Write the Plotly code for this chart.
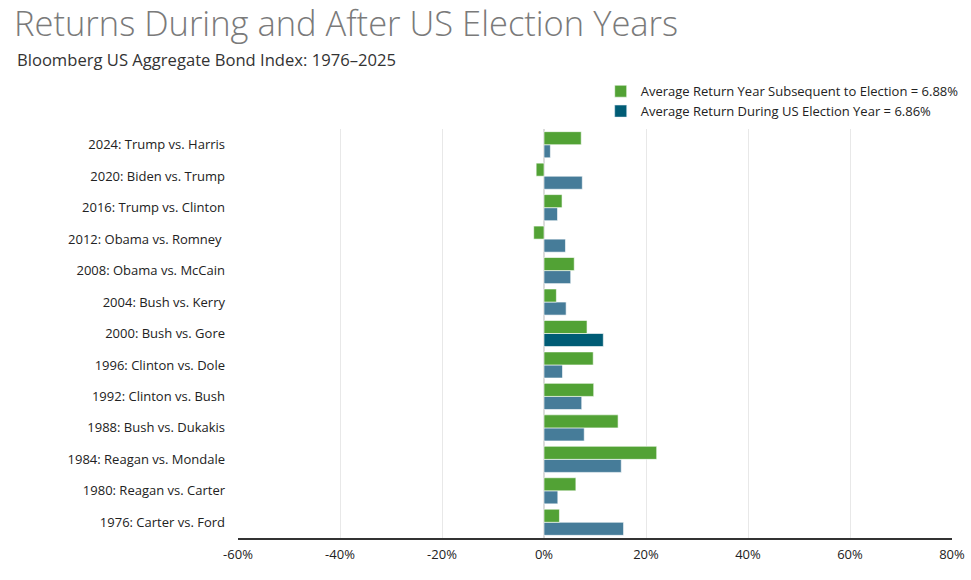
import plotly.graph_objects as go

categories = [
    "1976: Carter vs. Ford",
    "1980: Reagan vs. Carter",
    "1984: Reagan vs. Mondale",
    "1988: Bush vs. Dukakis",
    "1992: Clinton vs. Bush",
    "1996: Clinton vs. Dole",
    "2000: Bush vs. Gore",
    "2004: Bush vs. Kerry",
    "2008: Obama vs. McCain",
    "2012: Obama vs. Romney ",
    "2016: Trump vs. Clinton",
    "2020: Biden vs. Trump",
    "2024: Trump vs. Harris",
]
election_year = [15.60, 2.71, 15.15, 7.89, 7.40, 3.63, 11.63, 4.34, 5.24, 4.21, 2.65, 7.51, 1.25]
subsequent_year = [3.03, 6.25, 22.10, 14.53, 9.75, 9.65, 8.44, 2.43, 5.93, -2.02, 3.54, -1.54, 7.30]
tick_vals = [-60, -40, -20, 0, 20, 40, 60, 80]
tick_text = ["-60%", "-40%", "-20%", "0%", "20%", "40%", "60%", "80%"]

BLUE = "#467c99"
DARK = "#005c75"
GREEN = "#52a235"
blue_colors = [DARK if c.startswith("2000") else BLUE for c in categories]

FONT = "Open Sans, sans-serif"
OUTLINE = dict(color="rgba(255,255,255,0.6)", width=1)

fig = go.Figure()
fig.add_trace(go.Bar(
    y=categories, x=election_year, orientation="h",
    name="Average Return During US Election Year = 6.86%",
    marker=dict(color=blue_colors, line=OUTLINE),
    offsetgroup="blue", showlegend=False,
))
fig.add_trace(go.Bar(
    y=categories, x=subsequent_year, orientation="h",
    name="Average Return Year Subsequent to Election = 6.88%",
    marker=dict(color=GREEN, line=OUTLINE),
    offsetgroup="green", legendrank=1,
))
# legend entry for the election-year series (dark swatch)
fig.add_trace(go.Bar(
    y=[None], x=[None], orientation="h",
    name="Average Return During US Election Year = 6.86%",
    marker=dict(color=DARK), offsetgroup="blue", legendrank=2,
))

fig.update_layout(
    width=971, height=580,
    margin=dict(l=238, r=19, t=129, b=42, autoexpand=False),
    paper_bgcolor="white", plot_bgcolor="white",
    barmode="group", bargap=0.17, bargroupgap=0,
    font=dict(family=FONT, size=13, color="#222"),
    title=dict(
        text="Returns During and After US Election Years",
        font=dict(family=FONT, size=34.5, color="#7a7a7a", weight=300),
        x=14 / 971, xanchor="left", xref="container",
        y=1 - 23.5 / 580, yanchor="middle", yref="container",
        pad=dict(t=0, l=0, b=0, r=0),
    ),
    legend=dict(
        x=0.508, y=1.129, xanchor="left", yanchor="top",
        font=dict(family=FONT, size=13, color="#222"),
        itemwidth=30,
        bgcolor="rgba(0,0,0,0)",
        tracegroupgap=0,
    ),
    showlegend=True,
    annotations=[dict(
        text="Bloomberg US Aggregate Bond Index: 1976–2025",
        xref="paper", yref="paper", x=-0.313, y=(538 - 59) / 409,
        xanchor="left", yanchor="middle", showarrow=False,
        font=dict(family=FONT, size=16.6, color="#333"),
    )],
)
fig.update_xaxes(
    range=[-60, 80], tickvals=tick_vals, ticktext=tick_text,
    showgrid=True, gridcolor="#e8e8e8", gridwidth=1,
    zeroline=True, zerolinecolor="#dcdcdc", zerolinewidth=2,
    showline=True, linecolor="#333", linewidth=2,
    ticks="", ticklabelstandoff=3, tickfont=dict(size=13, color="#222"),
    fixedrange=True,
)
fig.update_yaxes(
    showgrid=False, showline=False, ticks="", ticklabelstandoff=12,
    tickfont=dict(size=13, color="#222"),
)

fig.write_html("out.html")
